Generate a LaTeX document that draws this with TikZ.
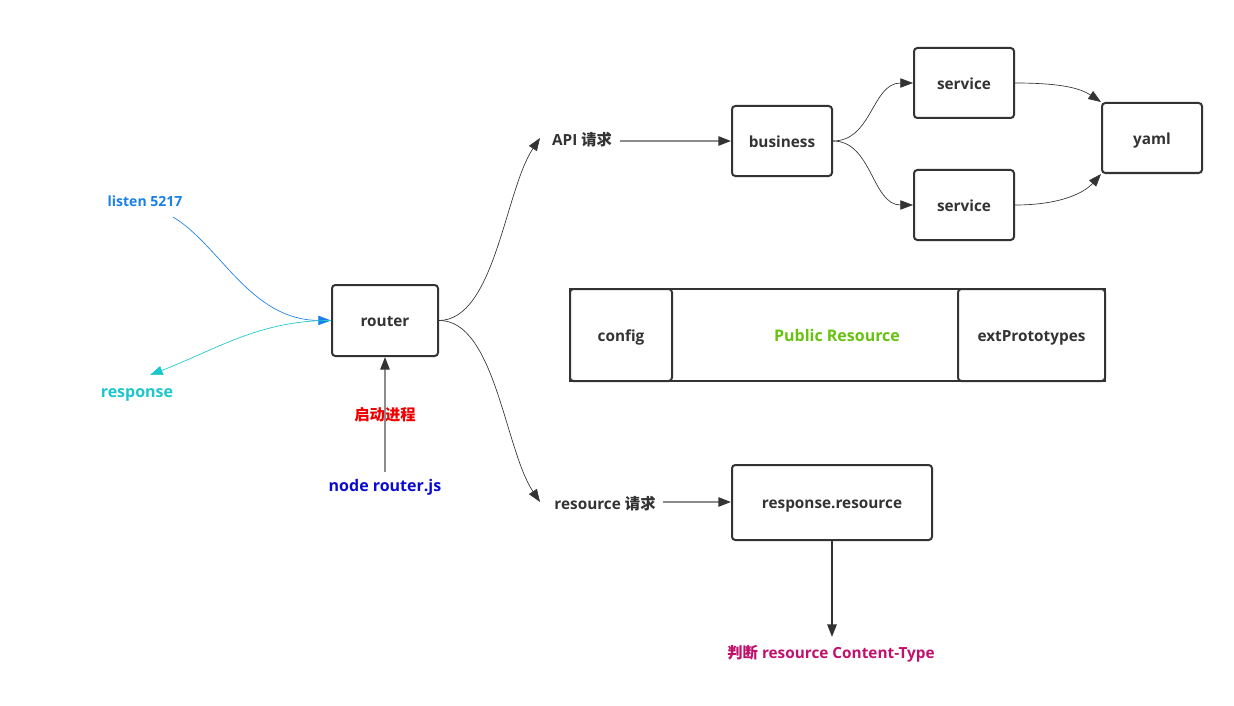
\documentclass[tikz,border=0pt]{standalone}
\usepackage{fontspec}
\setmainfont{Open Sans}
\newfontfamily\cjk{Noto Sans CJK SC}
\usetikzlibrary{arrows.meta}
\definecolor{dark}{HTML}{333333}
\definecolor{lgray}{HTML}{8C8C8C}
\definecolor{lblue}{HTML}{1A7FE6}
\definecolor{lcyan}{HTML}{1CC6CC}
\definecolor{lred}{HTML}{F00000}
\definecolor{nblue}{HTML}{0A0AD2}
\definecolor{lgreen}{HTML}{66C20E}
\definecolor{lmag}{HTML}{C0106B}
\tikzset{
  txt/.style={font=\fontsize{11.5}{13}\selectfont\bfseries, text height=2.15ex, text depth=0.35ex},
  box/.style={txt, draw=dark, line width=1.5pt, rounded corners=2.5pt, fill=white, text=dark},
  lbl/.style={txt, text=dark, inner sep=1pt},
  tip/.style={-{Triangle[length=9.5pt,width=7pt,color=dark]}},
  curv/.style={tip, draw=dark, line width=0.5pt},
  straight/.style={tip, draw=lgray, line width=1.2pt},
}
\begin{document}
\begin{tikzpicture}[x=0.75pt,y=-0.75pt]
\useasboundingbox (0,0) rectangle (1234,706);
% boxes
\node[box, minimum width=79.5pt, minimum height=53.25pt] (router) at (385,320.5) {router};
\node[box, minimum width=75pt, minimum height=52.5pt] (business) at (782,141) {business};
\node[box, minimum width=75pt, minimum height=52.5pt] (svc1) at (964,83) {service};
\node[box, minimum width=75pt, minimum height=52.5pt] (svc2) at (964,205) {service};
\node[box, minimum width=75pt, minimum height=52.5pt] (yaml) at (1152,138) {yaml};
\node[box, minimum width=150pt, minimum height=56.25pt] (resp) at (832,502.5) {response.resource};
% public resource
\node[draw=dark, line width=1.5pt, minimum width=401.25pt, minimum height=69pt, inner sep=0pt] (pub) at (837.5,335) {};
\node[box, minimum width=76.5pt, minimum height=69pt] (config) at (621,335) {config};
\node[box, minimum width=110.25pt, minimum height=69pt] (ext) at (1031.5,335) {extPrototypes};
\node[lbl, text=lgreen, font=\fontsize{12}{14}\selectfont\bfseries] (pubtxt) at (837,335) {Public Resource};
% labels
\node[lbl, text=lblue, font=\fontsize{10.5}{12}\selectfont\bfseries] (listen) at (145,200) {listen 5217};
\node[lbl, text=lcyan, font=\fontsize{12}{14}\selectfont\bfseries] (response) at (137,391) {response};
\node[lbl, text=lred] (start) at (385,414) {\cjk\bfseries 启动进程};
\node[lbl, text=nblue, font=\fontsize{12}{14}\selectfont\bfseries] (noderj) at (385,485) {node router.js};
\node[lbl] (api) at (582,139) {API {\cjk\bfseries 请求}};
\node[lbl] (resreq) at (605,503) {resource {\cjk\bfseries 请求}};
\node[lbl, text=lmag] (judge) at (831,652) {{\cjk\bfseries 判断} resource Content-Type};
% coordinates
\coordinate (lsn) at (173,217);
\coordinate (rspend) at (150,375);
\coordinate (apiin) at (540,138);
\coordinate (resin) at (540,502);
\coordinate (apiout) at (620,141);
\coordinate (resout) at (663,502);
\coordinate (rjtop) at (385,472);
\coordinate (jtop) at (832,637);
% connectors
\draw[curv, draw=lblue, -{Triangle[length=9.5pt,width=7pt,color=lblue]}] (lsn) .. controls (220,245) and (250,320) .. (router.west);
\draw[curv, draw=lcyan, -{Triangle[length=9.5pt,width=7pt,color=lcyan]}] (router.west) .. controls (260,320) and (215,350) .. (rspend);
\draw[straight] (rjtop) -- (router.south);
\draw[curv] (router.east) .. controls (495,320) and (505,190) .. (apiin);
\draw[curv] (router.east) .. controls (495,320) and (505,450) .. (resin);
\draw[straight] (apiout) -- (apiout -| business.west);
\draw[straight] (resout) -- (resout -| resp.west);
\draw[curv] (business.east) .. controls (872,141) and (872,83) .. (svc1.west);
\draw[curv] (business.east) .. controls (872,141) and (872,205) .. (svc2.west);
\draw[curv] (svc1.east) .. controls (1060,83) and (1080,88) .. (yaml.north west);
\draw[curv] (svc2.east) .. controls (1062,205) and (1085,192) .. (yaml.south west);
\draw[tip, draw=dark, line width=1.5pt] (resp.south) -- (jtop);
\end{tikzpicture}
\end{document}
